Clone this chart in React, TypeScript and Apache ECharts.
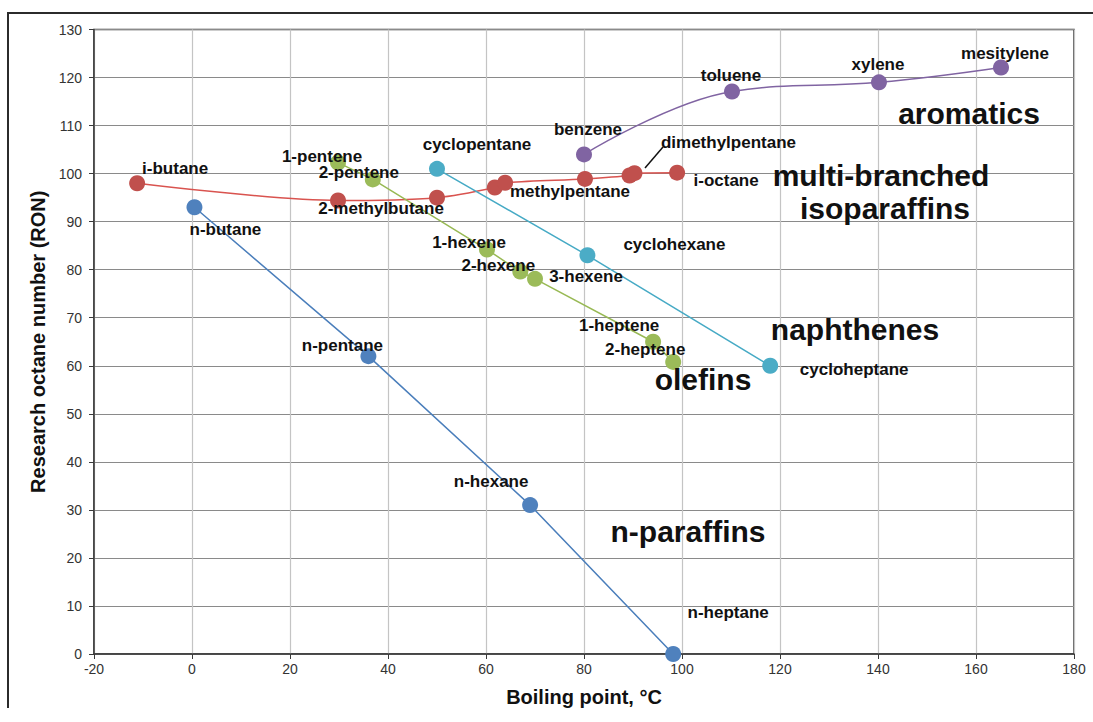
import React, { useEffect, useRef } from "react";
import * as echarts from "echarts";

// ---------------- data ----------------
const xTicks = { min: -20, max: 180, interval: 20 };
const yTicks = { min: 0, max: 130, interval: 10 };

const nParaffinNames = ["n-butane", "n-pentane", "n-hexane", "n-heptane"];
const nParaffinX = [0.5, 36, 69, 98.2];
const nParaffinY = [93, 62, 31, 0];

const isoNames = ["i-butane", "2-methylbutane", "", "", "", "methylpentane", "", "dimethylpentane", "i-octane"];
const isoX = [-11.2, 29.8, 50, 61.8, 63.9, 80.2, 89.3, 90.3, 99];
const isoY = [98, 94.4, 95, 97.1, 98.1, 98.9, 99.6, 100.1, 100.2];

const olefinNames = ["1-pentene", "2-pentene", "1-hexene", "2-hexene", "3-hexene", "1-heptene", "2-heptene"];
const olefinX = [29.8, 36.9, 60.2, 67, 70, 94.1, 98.2];
const olefinY = [102.3, 98.8, 84.2, 79.6, 78.1, 65, 60.8];

const naphtheneNames = ["cyclopentane", "cyclohexane", "cycloheptane"];
const naphtheneX = [50, 80.7, 118];
const naphtheneY = [101, 83, 60];

const aromaticNames = ["benzene", "toluene", "xylene", "mesitylene"];
const aromaticX = [80, 110.2, 140.2, 165.1];
const aromaticY = [104, 117.1, 119, 122.1];

const groupLabels = ["aromatics", "multi-branched", "isoparaffins", "naphthenes", "olefins", "n-paraffins"];

// ---------------- layout (label offsets in px, relative to point) ----------------
const labelOffsets: Record<string, [number, number]> = {
  "n-butane": [31, 22],
  "n-pentane": [-26, -11],
  "n-hexane": [-39, -24],
  "n-heptane": [55, -42],
  "i-butane": [38, -15],
  "2-methylbutane": [43, 8],
  "methylpentane": [-15, 13],
  "dimethylpentane": [94, -31],
  "i-octane": [49, 8],
  "1-pentene": [-16, -6],
  "2-pentene": [-14, -7],
  "1-hexene": [-18, -7],
  "2-hexene": [-22, -6],
  "3-hexene": [51, -2],
  "1-heptene": [-34, -16],
  "2-heptene": [-28, -12],
  "cyclopentane": [40, -24],
  "cyclohexane": [87, -11],
  "cycloheptane": [84, 4],
  "benzene": [4, -25],
  "toluene": [-1, -16],
  "xylene": [-1, -18],
  "mesitylene": [4, -14],
};

const groupPositions: [number, number][] = [
  [969, 113],
  [881, 175],
  [885, 208],
  [855, 329],
  [703, 379],
  [688, 531],
];

const FONT = "'Liberation Sans', Arial, sans-serif";

function buildData(names: string[], xs: number[], ys: number[]) {
  return xs.map((x, i) => {
    const name = names[i];
    const off = labelOffsets[name];
    return {
      value: [x, ys[i]],
      name,
      label: name
        ? {
            show: true,
            formatter: name,
            position: "inside",
            offset: off || [0, -16],
            fontFamily: FONT,
            fontWeight: "bold",
            fontSize: 17,
            color: "#111",
            align: "center",
            verticalAlign: "middle",
          }
        : { show: false },
    };
  });
}

function makeSeries(name: string, names: string[], xs: number[], ys: number[], lineColor: string, markerColor: string, smooth: number | boolean) {
  return {
    type: "line",
    name,
    data: buildData(names, xs, ys),
    smooth,
    symbol: "circle",
    symbolSize: 16,
    lineStyle: { color: lineColor, width: 1.5 },
    itemStyle: { color: markerColor, borderWidth: 0 },
    z: 3,
  };
}

export default function App() {
  const ref = useRef<HTMLDivElement>(null);
  useEffect(() => {
    if (!ref.current) return;
    const chart = echarts.init(ref.current, null, { renderer: "svg" });
    const graphics: any[] = [
      {
        type: "polyline",
        shape: { points: [[8, 708], [8, 13], [1093, 13]] },
        style: { stroke: "#2b2b2b", lineWidth: 2, fill: "none" },
        silent: true,
      },
      {
        type: "line",
        shape: { x1: 645, y1: 168, x2: 663, y2: 147 },
        style: { stroke: "#111", lineWidth: 1.5 },
        silent: true,
        z: 10,
      },
    ];
    groupLabels.forEach((t, i) => {
      graphics.push({
        type: "text",
        x: groupPositions[i][0],
        y: groupPositions[i][1],
        style: {
          text: t,
          fontFamily: FONT,
          fontWeight: "bold",
          fontSize: 30,
          fill: "#111",
          align: "center",
          verticalAlign: "middle",
        },
        z: 10,
      });
    });

    chart.setOption({
      animation: false,
      backgroundColor: "#ffffff",
      grid: {
        left: 94,
        right: 19,
        top: 29.5,
        bottom: 68,
        show: true,
        borderColor: "#3a3a3a",
        borderWidth: 1.5,
        backgroundColor: "transparent",
      },
      xAxis: {
        type: "value",
        min: xTicks.min,
        max: xTicks.max,
        interval: xTicks.interval,
        name: "Boiling point, °C",
        nameLocation: "middle",
        nameGap: 33,
        nameTextStyle: { fontFamily: FONT, fontWeight: "bold", fontSize: 20, color: "#111" },
        axisLine: { show: true, onZero: false, lineStyle: { color: "#3a3a3a", width: 1.5 } },
        axisTick: { show: true, length: 5, lineStyle: { color: "#3a3a3a" } },
        axisLabel: { fontFamily: FONT, fontSize: 14, color: "#333", margin: 8 },
        splitLine: { show: true, lineStyle: { color: "#c4c4c4", width: 1.2 } },
      },
      yAxis: {
        type: "value",
        min: yTicks.min,
        max: yTicks.max,
        interval: yTicks.interval,
        name: "Research octane number (RON)",
        nameLocation: "middle",
        nameGap: 42,
        nameTextStyle: { fontFamily: FONT, fontWeight: "bold", fontSize: 20, color: "#111" },
        axisLine: { show: true, onZero: false, lineStyle: { color: "#3a3a3a", width: 1.5 } },
        axisTick: { show: true, length: 5, lineStyle: { color: "#3a3a3a" } },
        axisLabel: { fontFamily: FONT, fontSize: 14, color: "#333", margin: 12 },
        splitLine: { show: true, lineStyle: { color: "#8a8a8a", width: 1.2 } },
      },
      series: [
        makeSeries("n-paraffins", nParaffinNames, nParaffinX, nParaffinY, "#4A7EBB", "#4F81BD", false),
        makeSeries("isoparaffins", isoNames, isoX, isoY, "#D9534F", "#C0504D", 0.3),
        makeSeries("olefins", olefinNames, olefinX, olefinY, "#98B954", "#9BBB59", false),
        makeSeries("naphthenes", naphtheneNames, naphtheneX, naphtheneY, "#46AAC5", "#4BACC6", false),
        makeSeries("aromatics", aromaticNames, aromaticX, aromaticY, "#8064A2", "#8064A2", 0.4),
      ],
      graphic: graphics,
    });
    return () => chart.dispose();
  }, []);
  return (
    <div
      ref={ref}
      style={{ position: "fixed", left: 0, top: 0, width: 1093, height: 722 }}
    />
  );
}
